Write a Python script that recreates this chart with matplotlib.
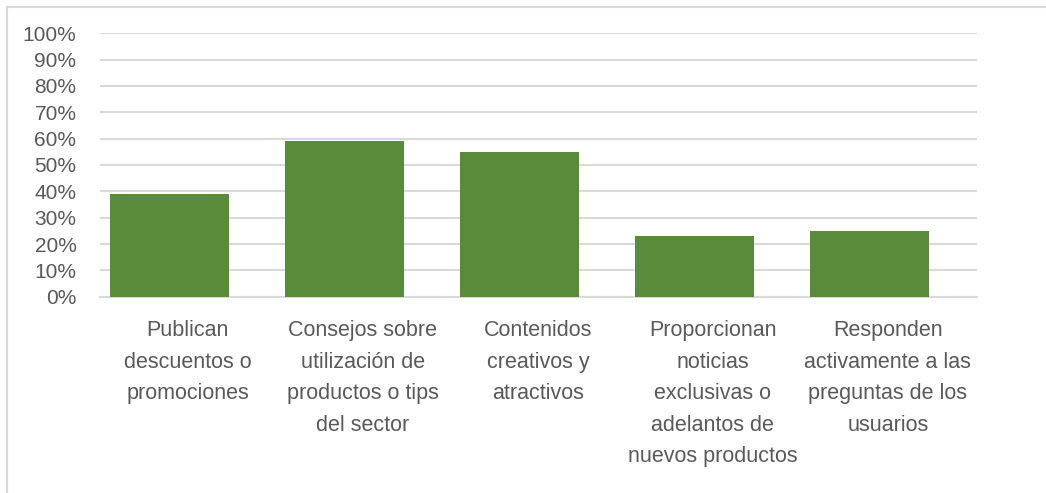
import matplotlib
matplotlib.use("Agg")
import matplotlib.pyplot as plt
from matplotlib.lines import Line2D
from matplotlib.ticker import PercentFormatter

categories = [
    "Publican\ndescuentos o\npromociones",
    "Consejos sobre\nutilización de\nproductos o tips\ndel sector",
    "Contenidos\ncreativos y\natractivos",
    "Proporcionan\nnoticias\nexclusivas o\nadelantos de\nnuevos productos",
    "Responden\nactivamente a las\npreguntas de los\nusuarios",
]
values = [0.39, 0.59, 0.55, 0.23, 0.25]
y_ticks = [i / 10 for i in range(11)]

bar_color = "#5A8B3A"
text_color = "#595959"
grid_color = "#D9D9D9"

plt.rcParams["font.family"] = ["Liberation Sans", "DejaVu Sans"]

fig = plt.figure(figsize=(10.46, 4.93), dpi=100)
ax = fig.add_axes([100 / 1046, 1 - 296.7 / 493, 877 / 1046, 263.4 / 493])

x = list(range(len(categories)))
ax.bar(x, values, width=0.68, color=bar_color, zorder=3)

ax.set_ylim(0, 1)
ax.set_xlim(-0.397, 4.614)
ax.set_yticks(y_ticks)
ax.yaxis.set_major_formatter(PercentFormatter(1.0, decimals=0))
ax.grid(axis="y", color=grid_color, linewidth=1.5, zorder=0)
ax.set_axisbelow(True)

for side in ("top", "right", "left"):
    ax.spines[side].set_visible(False)
ax.spines["bottom"].set_color(grid_color)
ax.spines["bottom"].set_linewidth(1.5)
ax.spines["bottom"].set_zorder(1)

# category labels sit centred in their slots, slightly right of the bars
label_offset = 0.105
ax.set_xticks([i + label_offset for i in x])
ax.set_xticklabels(categories, fontsize=15.5, color=text_color, linespacing=1.65)
ax.tick_params(axis="x", length=0, pad=17)
ax.tick_params(axis="y", length=0, pad=17, labelsize=15, labelcolor=text_color)

# outer frame lines (top and left)
fig.add_artist(Line2D([7 / 1046, 1.0], [1 - 7 / 493, 1 - 7 / 493],
                      transform=fig.transFigure, color=grid_color, linewidth=1.5))
fig.add_artist(Line2D([7 / 1046, 7 / 1046], [0.0, 1 - 7 / 493],
                      transform=fig.transFigure, color=grid_color, linewidth=1.5))

fig.savefig("out.png", dpi=100, facecolor="white")
